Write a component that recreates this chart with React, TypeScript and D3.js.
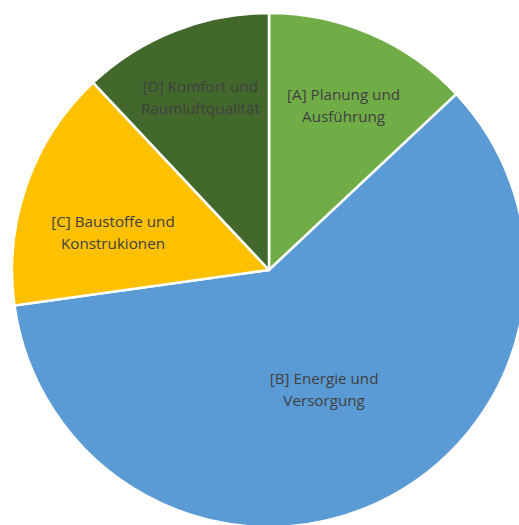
import React from "react";
import * as d3 from "d3";

const categories = [
  "[A] Planung und Ausführung",
  "[B] Energie und Versorgung",
  "[C] Baustoffe und Konstrukionen",
  "[D] Komfort und Raumluftqualität",
];
const labelLines = [
  ["[A] Planung und", "Ausführung"],
  ["[B] Energie und", "Versorgung"],
  ["[C] Baustoffe und", "Konstrukionen"],
  ["[D] Komfort und", "Raumluftqualität"],
];
const values = [13.0, 59.8, 15.2, 12.0];
const colors = ["#70AD47", "#5B9BD5", "#FFC000", "#43682B"];
const labelRadiusFactor = [0.705, 0.51, 0.625, 0.725];
const labelAngleShiftDeg = [0.9, 0.7, -5.7, 0];

const W = 519;
const H = 525;
const cx = 269;
const cy = 270;
const R = 257;

export default function App() {
  const pie = d3
    .pie<number>()
    .sort(null)
    .value((d) => d);
  const arcs = pie(values);
  const arcGen = d3.arc<d3.PieArcDatum<number>>().innerRadius(0).outerRadius(R);

  return (
    <svg
      width={W}
      height={H}
      style={{ position: "absolute", left: 0, top: 0, background: "#fff" }}
    >
      <g transform={`translate(${cx},${cy})`}>
        {arcs.map((a, i) => (
          <path
            key={categories[i]}
            d={arcGen(a) || ""}
            fill={colors[i]}
            stroke="#ffffff"
            strokeWidth={2.5}
            strokeLinejoin="round"
          />
        ))}
        {arcs.map((a, i) => {
          const mid = (a.startAngle + a.endAngle) / 2 + (labelAngleShiftDeg[i] * Math.PI) / 180;
          const r = R * labelRadiusFactor[i];
          const x = Math.sin(mid) * r;
          const y = -Math.cos(mid) * r;
          const lines = labelLines[i];
          const lh = 22;
          return (
            <text
              key={"l" + i}
              x={x}
              y={y}
              textAnchor="middle"
              fill="#404040"
              style={{ fontFamily: "'Open Sans', Lato, sans-serif", fontSize: 15.2 }}
            >
              {lines.map((t, j) => (
                <tspan
                  key={j}
                  x={x}
                  y={y + (j - (lines.length - 1) / 2) * lh}
                  dominantBaseline="central"
                >
                  {t}
                </tspan>
              ))}
            </text>
          );
        })}
      </g>
    </svg>
  );
}
